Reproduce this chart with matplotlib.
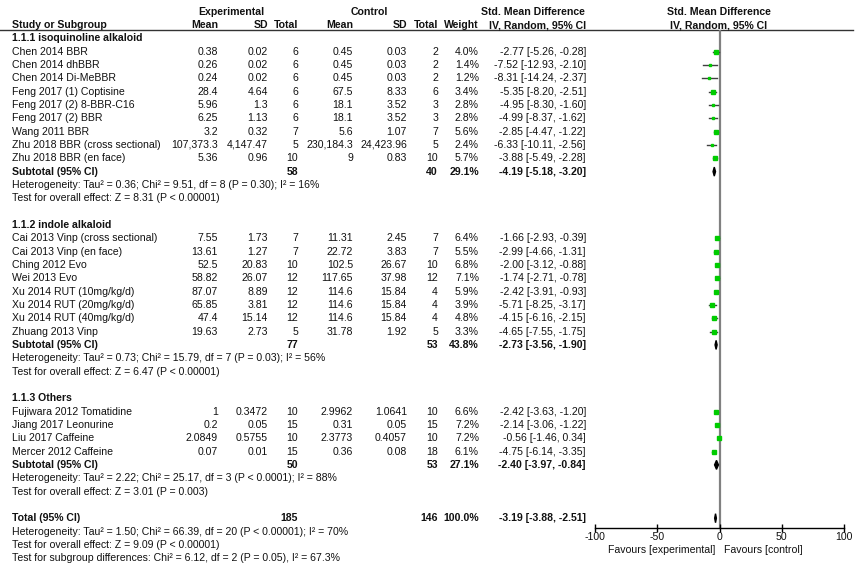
import matplotlib
matplotlib.use("Agg")
import matplotlib.pyplot as plt

plt.rcParams["font.family"] = ["Liberation Sans", "DejaVu Sans"]
FS = 7.6

# Study-level data
studies = ["Chen 2014 BBR", "Chen 2014 dhBBR", "Chen 2014 Di-MeBBR",
           "Feng 2017 (1) Coptisine", "Feng 2017 (2) 8-BBR-C16", "Feng 2017 (2) BBR",
           "Wang 2011 BBR", "Zhu 2018 BBR (cross sectional)", "Zhu 2018 BBR (en face)",
           "Cai 2013 Vinp (cross sectional)", "Cai 2013 Vinp (en face)", "Ching 2012 Evo",
           "Wei 2013 Evo", "Xu 2014 RUT (10mg/kg/d)", "Xu 2014 RUT (20mg/kg/d)",
           "Xu 2014 RUT (40mg/kg/d)", "Zhuang 2013 Vinp",
           "Fujiwara 2012 Tomatidine", "Jiang 2017 Leonurine", "Liu 2017 Caffeine",
           "Mercer 2012 Caffeine"]
group = [0] * 9 + [1] * 8 + [2] * 4
exp_mean = ["0.38", "0.26", "0.24", "28.4", "5.96", "6.25", "3.2", "107,373.3", "5.36",
            "7.55", "13.61", "52.5", "58.82", "87.07", "65.85", "47.4", "19.63",
            "1", "0.2", "2.0849", "0.07"]
exp_sd = ["0.02", "0.02", "0.02", "4.64", "1.3", "1.13", "0.32", "4,147.47", "0.96",
          "1.73", "1.27", "20.83", "26.07", "8.89", "3.81", "15.14", "2.73",
          "0.3472", "0.05", "0.5755", "0.01"]
exp_n = [6, 6, 6, 6, 6, 6, 7, 5, 10, 7, 7, 10, 12, 12, 12, 12, 5, 10, 15, 10, 15]
ctl_mean = ["0.45", "0.45", "0.45", "67.5", "18.1", "18.1", "5.6", "230,184.3", "9",
            "11.31", "22.72", "102.5", "117.65", "114.6", "114.6", "114.6", "31.78",
            "2.9962", "0.31", "2.3773", "0.36"]
ctl_sd = ["0.03", "0.03", "0.03", "8.33", "3.52", "3.52", "1.07", "24,423.96", "0.83",
          "2.45", "3.83", "26.67", "37.98", "15.84", "15.84", "15.84", "1.92",
          "1.0641", "0.05", "0.4057", "0.08"]
ctl_n = [2, 2, 2, 6, 3, 3, 7, 5, 10, 7, 7, 10, 12, 4, 4, 4, 5, 10, 15, 10, 18]
weight = [4.0, 1.4, 1.2, 3.4, 2.8, 2.8, 5.6, 2.4, 5.7,
          6.4, 5.5, 6.8, 7.1, 5.9, 3.9, 4.8, 3.3,
          6.6, 7.2, 7.2, 6.1]
smd = [-2.77, -7.52, -8.31, -5.35, -4.95, -4.99, -2.85, -6.33, -3.88,
       -1.66, -2.99, -2.00, -1.74, -2.42, -5.71, -4.15, -4.65,
       -2.42, -2.14, -0.56, -4.75]
ci_lo = [-5.26, -12.93, -14.24, -8.20, -8.30, -8.37, -4.47, -10.11, -5.49,
         -2.93, -4.66, -3.12, -2.71, -3.91, -8.25, -6.16, -7.55,
         -3.63, -3.06, -1.46, -6.14]
ci_hi = [-0.28, -2.10, -2.37, -2.51, -1.60, -1.62, -1.22, -2.56, -2.28,
         -0.39, -1.31, -0.88, -0.78, -0.93, -3.17, -2.15, -1.75,
         -1.20, -1.22, 0.34, -3.35]

# Subgroup summaries
sub_names = ["1.1.1 isoquinoline alkaloid", "1.1.2 indole alkaloid", "1.1.3 Others"]
sub_exp_n = [58, 77, 50]
sub_ctl_n = [40, 53, 53]
sub_weight = [29.1, 43.8, 27.1]
sub_smd = [-4.19, -2.73, -2.40]
sub_lo = [-5.18, -3.56, -3.97]
sub_hi = [-3.20, -1.90, -0.84]
sub_het = ["Heterogeneity: Tau\u00b2 = 0.36; Chi\u00b2 = 9.51, df = 8 (P = 0.30); I\u00b2 = 16%",
           "Heterogeneity: Tau\u00b2 = 0.73; Chi\u00b2 = 15.79, df = 7 (P = 0.03); I\u00b2 = 56%",
           "Heterogeneity: Tau\u00b2 = 2.22; Chi\u00b2 = 25.17, df = 3 (P < 0.0001); I\u00b2 = 88%"]
sub_test = ["Test for overall effect: Z = 8.31 (P < 0.00001)",
            "Test for overall effect: Z = 6.47 (P < 0.00001)",
            "Test for overall effect: Z = 3.01 (P = 0.003)"]

# Overall
tot_exp_n, tot_ctl_n, tot_weight = 185, 146, 100.0
tot_smd, tot_lo, tot_hi = -3.19, -3.88, -2.51
tot_notes = ["Heterogeneity: Tau\u00b2 = 1.50; Chi\u00b2 = 66.39, df = 20 (P < 0.00001); I\u00b2 = 70%",
             "Test for overall effect: Z = 9.09 (P < 0.00001)",
             "Test for subgroup differences: Chi\u00b2 = 6.12, df = 2 (P = 0.05), I\u00b2 = 67.3%"]
xticks = [-100, -50, 0, 50, 100]

# layout (pixels)
W, H = 856, 564
Y0, STEP = 38.3, 13.33
X_NAME, X_EM, X_ESD, X_EN, X_CM, X_CSD, X_CN, X_W, X_CI = 12, 218, 268, 298, 353, 407, 438, 479, 586
AX_L, AX_R, AX_TOP, AX_BOT = 595, 844, 30, 528

fig = plt.figure(figsize=(W / 100, H / 100), dpi=100)
ax = fig.add_axes([0, 0, 1, 1])
ax.set_xlim(0, W)
ax.set_ylim(H, 0)
ax.axis("off")

fx = fig.add_axes([AX_L / W, (H - AX_BOT) / H, (AX_R - AX_L) / W, (AX_BOT - AX_TOP) / H])
fx.set_xlim(-100, 100)
fx.set_ylim(AX_BOT, AX_TOP)
fx.patch.set_alpha(0)
for s in ["top", "left", "right"]:
    fx.spines[s].set_visible(False)
fx.spines["bottom"].set_linewidth(1.0)
fx.set_yticks([])
fx.set_xticks(xticks)
fx.set_xticklabels([str(t) for t in xticks], fontsize=FS, color="#111111")
fx.tick_params(axis="x", direction="inout", length=6, width=1.0, pad=0)
fx.axvline(0, color="#808080", lw=1.6, zorder=1)


def txt(x, y, s, ha="left", bold=False):
    ax.text(x, y, s, ha=ha, va="center", fontsize=FS,
            fontweight="bold" if bold else "normal", color="#111111")


# headers
txt(231, 12, "Experimental", "center", True)
txt(369, 12, "Control", "center", True)
txt(533, 12, "Std. Mean Difference", "center", True)
txt(719, 12, "Std. Mean Difference", "center", True)
hy = 25
txt(X_NAME, hy, "Study or Subgroup", bold=True)
for x, s in [(X_EM, "Mean"), (X_ESD, "SD"), (X_EN, "Total"), (X_CM, "Mean"),
             (X_CSD, "SD"), (X_CN, "Total"), (X_W, "Weight"), (X_CI, "IV, Random, 95% CI")]:
    txt(x, hy, s, "right", True)
txt(719, hy, "IV, Random, 95% CI", "center", True)
ax.plot([0, 853], [30, 30], color="#333333", lw=1.0)


def diamond(y, m, lo, hi):
    fx.fill([lo, m, hi, m], [y, y - 4.5, y, y + 4.5], color="black", zorder=3)


row = 0
for g in range(3):
    y = Y0 + STEP * row
    txt(X_NAME, y, sub_names[g], bold=True)
    row += 1
    for i in [k for k in range(len(studies)) if group[k] == g]:
        y = Y0 + STEP * row
        txt(X_NAME, y, studies[i])
        txt(X_EM, y, exp_mean[i], "right")
        txt(X_ESD, y, exp_sd[i], "right")
        txt(X_EN, y, str(exp_n[i]), "right")
        txt(X_CM, y, ctl_mean[i], "right")
        txt(X_CSD, y, ctl_sd[i], "right")
        txt(X_CN, y, str(ctl_n[i]), "right")
        txt(X_W, y, f"{weight[i]:.1f}%", "right")
        txt(X_CI, y, f"{smd[i]:.2f} [{ci_lo[i]:.2f}, {ci_hi[i]:.2f}]", "right")
        fx.plot([ci_lo[i], ci_hi[i]], [y, y], color="#404040", lw=1.0, zorder=2)
        fx.plot(smd[i], y, marker="s", ms=1.3 + 0.3 * weight[i], color="#00cc00",
                mec="#00cc00", zorder=3)
        row += 1
    y = Y0 + STEP * row
    txt(X_NAME, y, "Subtotal (95% CI)", bold=True)
    txt(X_EN, y, str(sub_exp_n[g]), "right", True)
    txt(X_CN, y, str(sub_ctl_n[g]), "right", True)
    txt(X_W, y, f"{sub_weight[g]:.1f}%", "right", True)
    txt(X_CI, y, f"{sub_smd[g]:.2f} [{sub_lo[g]:.2f}, {sub_hi[g]:.2f}]", "right", True)
    diamond(y, sub_smd[g], sub_lo[g], sub_hi[g])
    row += 1
    txt(X_NAME, Y0 + STEP * row, sub_het[g])
    row += 1
    txt(X_NAME, Y0 + STEP * row, sub_test[g])
    row += 2

y = Y0 + STEP * row
txt(X_NAME, y, "Total (95% CI)", bold=True)
txt(X_EN, y, str(tot_exp_n), "right", True)
txt(X_CN, y, str(tot_ctl_n), "right", True)
txt(X_W, y, f"{tot_weight:.1f}%", "right", True)
txt(X_CI, y, f"{tot_smd:.2f} [{tot_lo:.2f}, {tot_hi:.2f}]", "right", True)
diamond(y, tot_smd, tot_lo, tot_hi)
row += 1
for note in tot_notes:
    txt(X_NAME, Y0 + STEP * row, note)
    row += 1

txt(715, 550, "Favours [experimental]", "right")
txt(724, 550, "Favours [control]")

fig.savefig("out.png", dpi=100)
